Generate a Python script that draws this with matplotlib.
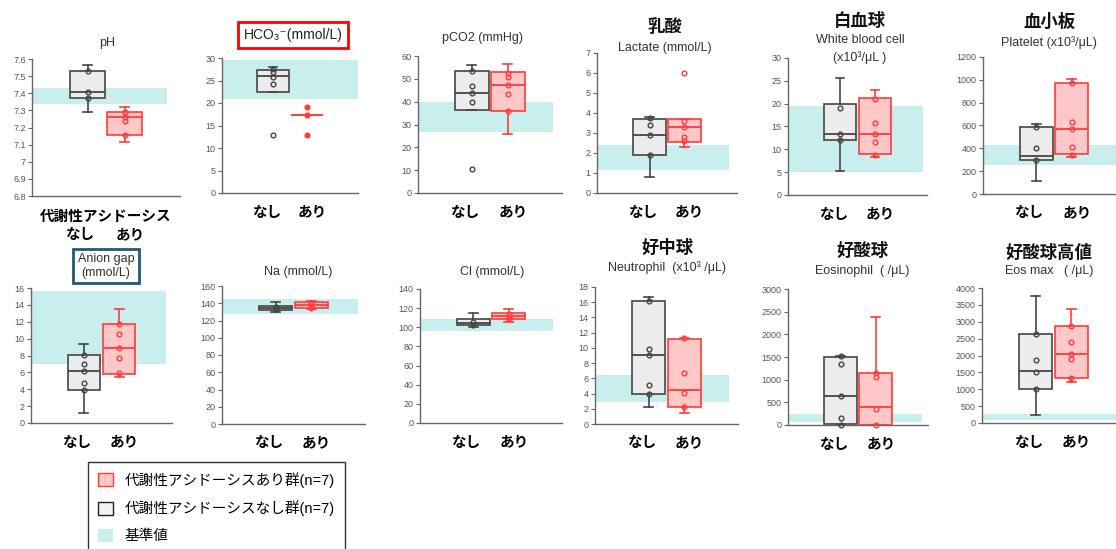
import numpy as np
import matplotlib
matplotlib.use("Agg")
import matplotlib.pyplot as plt
from matplotlib.patches import Patch

plt.rcParams['font.family'] = ['Liberation Sans', 'Noto Sans CJK JP', 'DejaVu Sans']

W, H = 1116, 549

# panel titles (Japanese heading, sub heading)
jp_titles = ["", "", "", "乳酸", "白血球", "血小板",
             "", "", "", "好中球", "好酸球", "好酸球高値"]
sub_titles = ["pH", "HCO₃⁻(mmol/L)", "pCO2 (mmHg)", "Lactate (mmol/L)",
              "White blood cell\n(x10³/μL )", "Platelet (x10³/μL)",
              "Anion gap\n(mmol/L)", "Na (mmol/L)", "Cl (mmol/L)",
              "Neutrophil  (x10³ /μL)", "Eosinophil  ( /μL)", "Eos max   ( /μL)"]

# y axis ranges and tick steps
y_max = [7.6, 30, 60, 7, 30, 1200, 16, 160, 140, 18, 3000, 4000]
y_min = [6.8, 0, 0, 0, 0, 0, 0, 0, 0, 0, 0, 0]
y_step = [0.1, 5, 10, 1, 5, 200, 2, 20, 20, 2, 500, 500]

# reference range (基準値)
ref_lo = [7.335, 20.8, 26.8, 1.15, 5.0, 255, 7.0, 128, 96, 2.9, 70, 90]
ref_hi = [7.43, 29.5, 39.8, 2.42, 19.4, 430, 15.7, 145, 109, 6.5, 240, 280]

# box stats: (whislo, q1, med, q3, whishi)
nashi_stats = [
    (7.29, 7.37, 7.41, 7.53, 7.565),
    (22.4, 22.4, 26.0, 27.4, 28.0),
    (36.3, 36.3, 43.8, 53.5, 56.0),
    (0.8, 1.9, 2.88, 3.72, 3.8),
    (5.3, 12.1, 13.4, 20.0, 25.7),
    (115, 300, 330, 590, 610),
    (1.2, 3.9, 6.2, 8.1, 9.4),
    (130, 132, 135, 137, 141),
    (100, 102, 105, 109, 115),
    (2.2, 4.0, 9.1, 16.2, 16.7),
    (0, 20, 640, 1490, 1520),
    (250, 1000, 1530, 2650, 3750),
]
ari_stats = [
    (7.115, 7.155, 7.26, 7.29, 7.32),
    (17.3, 17.3, 17.3, 17.3, 17.3),
    (26.0, 35.8, 47.5, 53.0, 56.5),
    (2.3, 2.55, 3.3, 3.72, 3.72),
    (8.3, 8.9, 13.3, 21.2, 23.0),
    (320, 350, 570, 975, 1010),
    (5.5, 5.8, 8.9, 11.7, 13.5),
    (133, 135, 138, 141, 143),
    (106, 109, 112, 115, 119),
    (1.5, 2.2, 4.5, 11.2, 11.3),
    (0, 0, 400, 1150, 2390),
    (1220, 1330, 2050, 2870, 3390),
]

# individual points
nashi_pts = [
    [7.53, 7.41, 7.37],
    [27.5, 26.8, 25.8, 24.2, 12.8],
    [53.5, 46.7, 44.0, 40.0, 10.7],
    [3.75, 3.4, 2.9, 1.9],
    [19.1, 13.4, 12.1],
    [590, 400, 300],
    [8.1, 7.0, 6.2, 4.7, 3.9],
    [136, 133],
    [106, 102],
    [16.2, 9.9, 9.1, 5.1, 4.0],
    [1520, 1340, 640, 150, 10],
    [2650, 1870, 1500, 1000],
]
ari_pts = [
    [7.29, 7.26, 7.24, 7.155],
    [19.2, 17.3, 13.0],
    [52.5, 50.8, 47.5, 43.4, 35.8],
    [6.0, 3.6, 3.3, 2.8, 2.6],
    [21.0, 15.7, 13.3, 11.7, 8.7],
    [970, 630, 570, 410, 340],
    [11.7, 10.6, 8.9, 7.7, 5.9],
    [140, 137, 134],
    [114, 111, 109],
    [11.3, 6.7, 4.1, 2.2],
    [1140, 1060, 360, 10],
    [2870, 2400, 2050, 1890, 1330],
]

group_labels = ["なし", "あり"]
legend_labels = ["代謝性アシドーシスあり群(n=7)", "代謝性アシドーシスなし群(n=7)", "基準値"]

# layout in pixels: axes (left, top, right, bottom)
axes_px = [
    (32, 59, 180, 196), (222, 58, 358, 193), (418, 56, 562, 193),
    (597, 53, 737, 193), (788, 58, 927, 195), (983, 57, 1125, 194),
    (31, 288, 172, 423), (222, 286, 365, 424), (420, 289, 562, 423),
    (595, 287, 738, 424), (788, 289, 928, 425), (982, 288, 1125, 423),
]
band_end = [0.91, 1.0, 0.94, 0.94, 0.97, 1.0, 0.96, 0.95, 0.94, 0.94, 0.96, 1.0]
# title positions (x, y_jp, y_sub)
title_px = [
    (107, None, 43), (293, None, 35), (483, None, 38),
    (665, 27, 48), (860, 20, 49), (1049, 21, 43),
    (106, None, 266), (298, None, 272), (492, None, 272),
    (667, 247, 268), (862, 250, 271), (1049, 252, 271),
]

GRAY_FACE, GRAY_EDGE = "#ececec", "#454545"
RED_FACE, RED_EDGE = "#ffc8c8", "#ff3b3b"
BAND = "#c9eeee"

fig = plt.figure(figsize=(W / 100, H / 100), dpi=100)


def fx(x):
    return x / W


def fy(y):
    return 1 - y / H


for i in range(12):
    l, t, r, b = axes_px[i]
    ax = fig.add_axes([fx(l), fy(b), (r - l) / W, (b - t) / H])
    ax.set_xlim(0, 4)
    ax.set_ylim(y_min[i], y_max[i])
    ticks = np.arange(y_min[i], y_max[i] + y_step[i] / 2, y_step[i])
    ax.set_yticks(ticks)
    ax.set_yticklabels([f"{v:g}" for v in np.round(ticks, 2)])
    ax.tick_params(axis='y', labelsize=6.5, labelcolor="#555555", color="#666666",
                   length=3, width=0.8, pad=1.5)
    for s in ["top", "right"]:
        ax.spines[s].set_visible(False)
    for s in ["left", "bottom"]:
        ax.spines[s].set_color("#666666")
        ax.spines[s].set_linewidth(1.0)

    ax.axhspan(ref_lo[i], ref_hi[i], xmin=0, xmax=band_end[i], color=BAND, lw=0, zorder=0)

    for pos, st, pts, face, edge in [(1.5, nashi_stats[i], nashi_pts[i], GRAY_FACE, GRAY_EDGE),
                                     (2.5, ari_stats[i], ari_pts[i], RED_FACE, RED_EDGE)]:
        stats = [dict(whislo=st[0], q1=st[1], med=st[2], q3=st[3], whishi=st[4])]
        ax.bxp(stats, positions=[pos], widths=0.92, capwidths=0.25, patch_artist=True,
               showfliers=False, manage_ticks=False,
               boxprops=dict(facecolor=face, edgecolor=edge, linewidth=1.2),
               medianprops=dict(color=edge, linewidth=1.3),
               whiskerprops=dict(color=edge, linewidth=1.2),
               capprops=dict(color=edge, linewidth=1.2), zorder=2)
        filled = (i == 1 and pos == 2.5)
        ax.plot(np.full(len(pts), pos), pts, 'o', ms=3.4, mew=1.0, mec=edge,
                mfc=edge if filled else 'none', zorder=3, clip_on=False)

    ax.set_xticks([1.3, 2.65])
    ax.set_xticklabels(group_labels, fontsize=10.5, fontweight='bold')
    ax.tick_params(axis='x', length=0, pad=23 if i == 0 else 9)
    if i == 0:
        ax.text(0.5, -0.1, "代謝性アシドーシス", transform=ax.transAxes, ha='center',
                va='top', fontsize=10.5, fontweight='bold')

    tx, ty_jp, ty_sub = title_px[i]
    if ty_jp is not None:
        fig.text(fx(tx), fy(ty_jp), jp_titles[i], ha='center', va='center',
                 fontsize=12.5, fontweight='bold', color="#111111")
    if i == 1:
        fig.text(fx(tx), fy(ty_sub), sub_titles[i], ha='center', va='center',
                 fontsize=10, color="#222222",
                 bbox=dict(boxstyle='square,pad=0.4', fc='white', ec='#ff0000', lw=2))
    elif i == 6:
        fig.text(fx(tx), fy(ty_sub), sub_titles[i], ha='center', va='center',
                 fontsize=9, color="#333333", linespacing=1.2,
                 bbox=dict(boxstyle='square,pad=0.35', fc='white', ec='#1f5a78', lw=2))
    elif i == 4:
        fig.text(fx(tx), fy(ty_sub), sub_titles[i], ha='center', va='center',
                 fontsize=9, color="#333333", linespacing=1.5)
    else:
        fig.text(fx(tx), fy(ty_sub), sub_titles[i], ha='center', va='center',
                 fontsize=9, color="#333333")

handles = [Patch(facecolor=RED_FACE, edgecolor=RED_EDGE, lw=1),
           Patch(facecolor="#f4f4f4", edgecolor="#222222", lw=1),
           Patch(facecolor=BAND, edgecolor='none')]
leg = fig.legend(handles, legend_labels, loc='upper left',
                 bbox_to_anchor=(fx(88), fy(462)), borderaxespad=0, fontsize=10.5,
                 frameon=True, fancybox=False, edgecolor='black', handlelength=1.0,
                 handleheight=1.0, labelspacing=0.85, borderpad=0.7, handletextpad=0.8)
leg.get_frame().set_linewidth(1.0)

fig.savefig("out.png", dpi=100, facecolor='white')
